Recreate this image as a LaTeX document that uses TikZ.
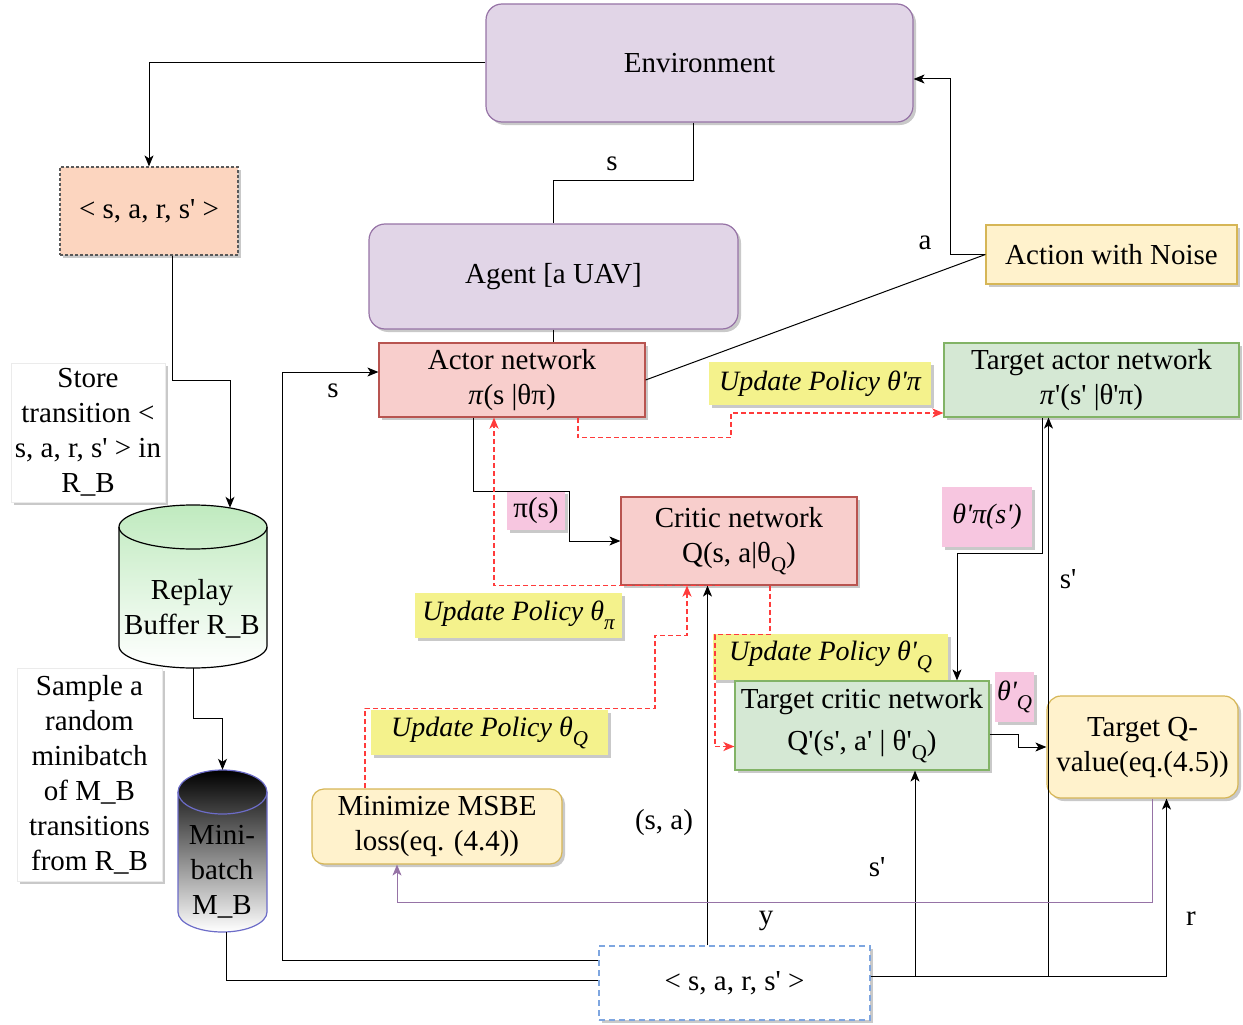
\documentclass[tikz,border=0pt]{standalone}
\usepackage{fontspec}
\newfontfamily\tnr{Liberation Serif}
\usetikzlibrary{shadows,arrows.meta,calc}
\definecolor{lavF}{HTML}{E1D5E7}\definecolor{lavD}{HTML}{9673A6}
\definecolor{redF}{HTML}{F8CECC}\definecolor{redD}{HTML}{B85450}
\definecolor{grnF}{HTML}{D5E8D4}\definecolor{grnD}{HTML}{82B366}
\definecolor{yelF}{HTML}{FFF2CC}\definecolor{yelD}{HTML}{D6B656}
\definecolor{peach}{HTML}{FCD5BF}
\definecolor{updY}{HTML}{F4F28C}
\definecolor{pinkL}{HTML}{F7C6E0}
\definecolor{blueD}{HTML}{7EA6E0}
\definecolor{redL}{HTML}{FF3B3B}
\definecolor{miniD}{HTML}{6C6CC8}
\newcommand\sbx[1]{\raisebox{-0.32em}{\fontsize{21}{21}\selectfont #1}}
\begin{document}
\begin{tikzpicture}[x=1pt,y=-1pt,
  font=\tnr\fontsize{29}{35}\selectfont,
  shd/.style={drop shadow={shadow xshift=3pt,shadow yshift=-3pt,opacity=0.3,fill=black!70}},
  box/.style={draw,line width=1.2pt,inner sep=0pt,align=center,shd},
  lav/.style={box,fill=lavF,draw=lavD,rounded corners=16pt},
  redb/.style={box,fill=redF,draw=redD},
  grnb/.style={box,fill=grnF,draw=grnD},
  yelb/.style={box,fill=yelF,draw=yelD},
  updb/.style={inner sep=0pt,align=center,fill=updY,shd,font=\tnr\itshape\fontsize{28}{34}\selectfont},
  pinkb/.style={inner sep=0pt,align=center,fill=pinkL,shd},
  txtb/.style={inner sep=0pt,align=center,fill=white,draw=black!8,shd},
  lbl/.style={inner sep=0pt},
  arr/.style={line width=1pt,-{Stealth[length=11pt,width=9pt,inset=3pt]}},
  ln/.style={line width=1pt},
  rarr/.style={draw=redL,dash pattern=on 5pt off 3pt,line width=1.7pt,-{Stealth[length=11pt,width=9pt,inset=3pt]}},
  parr/.style={draw=lavD,line width=1pt,-{Stealth[length=11pt,width=9pt,inset=3pt]}}]
\useasboundingbox (0,0) rectangle (1243,1025);

% cylinders
\shade[top color=grnF!90!green,bottom color=white,draw,line width=1.2pt] (119,527) -- (119,646) arc[start angle=180,end angle=0,x radius=74,y radius=22] -- (267,527) arc[start angle=0,end angle=-180,x radius=74,y radius=22] -- cycle;
\draw[line width=1.2pt] (119,527) arc[start angle=180,end angle=0,x radius=74,y radius=22];
\shade[top color=black,bottom color=white,draw=miniD,line width=1.2pt] (178,792) -- (178,912) arc[start angle=180,end angle=0,x radius=44.5,y radius=20] -- (267,792) arc[start angle=0,end angle=-180,x radius=44.5,y radius=22] -- cycle;
\draw[miniD,line width=1.2pt] (178,792) arc[start angle=180,end angle=0,x radius=44.5,y radius=22];
\node[minimum width=148pt,minimum height=163pt,inner sep=0pt] (replay) at (193,586.5) {};
\node[lbl,align=center] (replayT) at (192,609) {Replay\\Buffer R\_B};
\node[minimum width=89pt,minimum height=162pt,inner sep=0pt] (mini) at (222.5,851) {};
\node[lbl,align=center] (miniT) at (222,872) {Mini-\\batch\\M\_B};

% main nodes
\node[lav,minimum width=427pt,minimum height=118pt] (env) at (699.5,63) {\raisebox{-3pt}{Environment}};
\node[lav,minimum width=369pt,minimum height=105pt] (agent) at (553.5,276.5) {\raisebox{-3pt}{Agent [a UAV]}};
\node[box,fill=peach,draw=black!65,dash pattern=on 3pt off 2pt,minimum width=178pt,minimum height=88pt] (sarsTop) at (149,211) {\raisebox{-3pt}{< s, a, r, s' >}};
\node[txtb,minimum width=154pt,minimum height=139pt] (store) at (88,432.5) {Store\\transition <\\s, a, r, s' > in\\R\_B};
\node[txtb,minimum width=145pt,minimum height=213pt] (sample) at (89.5,774.5) {Sample a\\random\\minibatch\\of M\_B\\transitions\\from R\_B};
\node[redb,minimum width=266pt,minimum height=74pt] (actor) at (512,380) {Actor network\\\textit{π}(s |θπ)};
\node[grnb,minimum width=295pt,minimum height=74pt] (tactor) at (1091.5,380) {Target actor network\\\textit{π}'(s' |θ'π)};
\node[yelb,minimum width=251pt,minimum height=59pt] (noise) at (1111.5,254.5) {\raisebox{-3pt}{Action with Noise}};
\node[redb,minimum width=236pt,minimum height=88pt] (critic) at (739,541) {Critic network\\Q(s, a|θ\sbx{Q})};
\node[updb,minimum width=235pt,minimum height=46pt] (upd3) at (830.5,657) {Update Policy θ'\sbx{Q}};
\node[grnb,minimum width=254pt,minimum height=89pt,font=\tnr\fontsize{29}{42}\selectfont] (tcritic) at (862,725.5) {Target critic network\\Q'(s', a' | θ'\sbx{Q})};
\node[yelb,rounded corners=14pt,minimum width=191pt,minimum height=102pt] (tq) at (1142.5,747) {Target Q-\\value(eq.(4.5))};
\node[yelb,rounded corners=12pt,minimum width=250pt,minimum height=75pt] (msbe) at (437,826.5) {Minimize MSBE\\loss(eq. (4.4))};
\node[box,fill=white,draw=blueD,dash pattern=on 6pt off 4pt,minimum width=271pt,minimum height=74pt] (sarsBot) at (734.5,983) {\raisebox{-3pt}{< s, a, r, s' >}};
\node[updb,minimum width=222pt,minimum height=43pt] (upd1) at (820,383.5) {Update Policy θ'π};
\node[updb,minimum width=207pt,minimum height=45pt] (upd2) at (518.5,615.5) {Update Policy θ\sbx{π}};
\node[updb,minimum width=237pt,minimum height=45pt] (upd4) at (489.5,732.5) {Update Policy θ\sbx{Q}};
\node[pinkb,minimum width=58pt,minimum height=39pt] (pis) at (536,510.5) {π(s)};
\node[pinkb,minimum width=90pt,minimum height=60pt,font=\tnr\itshape\fontsize{28}{34}\selectfont] (thpi) at (987,517) {θ'π(s')};
\node[pinkb,minimum width=39pt,minimum height=50pt,font=\tnr\itshape\fontsize{28}{34}\selectfont] (thq) at (1014.5,697) {θ'\sbx{Q}};

% labels
\node[lbl] (ls1) at (612,164) {s};
\node[lbl] (la) at (925,243) {a};
\node[lbl] (ls2) at (333,391) {s};
\node[lbl] (lsa) at (664,823) {(s, a)};
\node[lbl] (ly) at (766,921) {y};
\node[lbl] (lsp1) at (877,867) {s'};
\node[lbl] (lsp2) at (1068,579) {s'};
\node[lbl] (lr) at (1191,919) {r};

% connectors
\draw[arr] (env.west) -| (sarsTop.north);
\draw[ln] ([xshift=-6pt]env.south) -- ++(0,58) -| (agent.north);
\draw[ln] (agent.south) -- (agent.south |- actor.north);
\draw[arr] ([xshift=23pt]sarsTop.south) -- ++(0,125) -| ([xshift=37pt,yshift=-3pt]replay.north);
\draw[arr] (replay.south) -- ++(0,50) -| (mini.north);
\draw[ln] ([xshift=4pt]mini.south) |- ([yshift=3pt]sarsBot.west);
\draw[arr] ([yshift=23pt]sarsBot.west) -- ++(-316,0) |- ([yshift=8pt]actor.west);
\draw[ln] (actor.east) -- (noise.west);
\draw[arr] (noise.west) -- ++(-35,0) |- ([yshift=-16pt]env.east);
\draw[arr] ([xshift=-39pt]actor.south) -- ++(0,74) -- ++(96,0) |- (critic.west);
\draw[rarr] ([xshift=-19pt]critic.south) -| ([xshift=-18pt]actor.south);
\draw[rarr] ([xshift=66pt]actor.south) -- ++(0,20) -- ++(153,0) |- ([yshift=-33pt]tactor.west);
\draw[rarr] ([xshift=-72pt]msbe.north) -- ++(0,-80) -- ++(290,0) -- ++(0,-73) -| ([xshift=-52pt]critic.south);
\draw[rarr] ([xshift=31pt]critic.south) -- ++(0,49) -- ++(-55,0) |- ([yshift=-21pt]tcritic.west);
\draw[arr] ([xshift=-27pt]sarsBot.north) -- ([xshift=-27pt]sarsBot.north |- critic.south);
\draw[arr] ([yshift=7pt]sarsBot.east) -| ([xshift=24pt]tq.south);
\draw[arr] ([yshift=7pt]sarsBot.east) -| ([xshift=53pt]tcritic.south);
\draw[arr] ([yshift=7pt]sarsBot.east) -| ([xshift=-43pt]tactor.south);
\draw[arr] ([xshift=-49pt]tactor.south) -- ++(0,136) -| ([xshift=95pt]tcritic.north);
\draw[arr] ([yshift=-9pt]tcritic.east) -- ++(29,0) |- (tq.west);
\draw[parr] ([xshift=10pt]tq.south) -- ++(0,104) -| ([xshift=-40pt]msbe.south);
\end{tikzpicture}
\end{document}
